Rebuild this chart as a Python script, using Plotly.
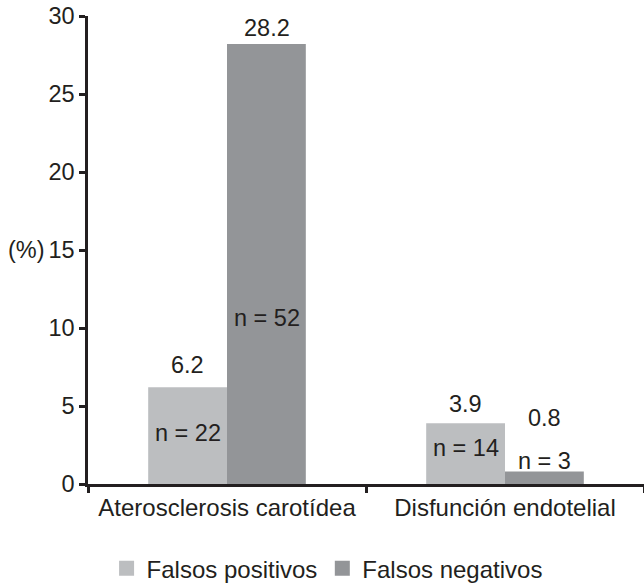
import plotly.graph_objects as go

# ---- data ----
categories = ["Aterosclerosis carotídea", "Disfunción endotelial"]
series_names = ["Falsos positivos", "Falsos negativos"]
falsos_positivos = [6.2, 3.9]
falsos_negativos = [28.2, 0.8]
n_positivos = [22, 14]
n_negativos = [52, 3]
y_ticks = [0, 5, 10, 15, 20, 25, 30]

# ---- style ----
FONT = "Liberation Sans, Arial, sans-serif"
TXT = "#231f20"
LIGHT = "#bcbec0"
DARK = "#939598"
COLORS = [LIGHT, DARK]
FS = 23.5
FS_BIG = 24

fig = go.Figure()
for vals, name, col in zip([falsos_positivos, falsos_negativos], series_names, COLORS):
    fig.add_trace(go.Bar(x=categories, y=vals, name=name, showlegend=False,
                         marker=dict(color=col, line=dict(width=0))))
# legend entries with larger square swatches
for name, col in zip(series_names, COLORS):
    fig.add_trace(go.Scatter(x=[None], y=[None], mode="markers", name=name,
                             marker=dict(symbol="square", size=15, color=col,
                                         line=dict(width=0))))

# label placement (y in axis units, x shift in px from category centre)
BAR_SHIFT = 39.5
val_label_y = {(0, 0): 7.6, (0, 1): 29.25, (1, 0): 5.15, (1, 1): 4.25}
n_label_y = {(0, 0): 3.25, (0, 1): 10.65, (1, 0): 2.3, (1, 1): 1.45}

annotations = []
series_vals = [falsos_positivos, falsos_negativos]
series_n = [n_positivos, n_negativos]
for ci, cat in enumerate(categories):
    for si in range(2):
        shift = -BAR_SHIFT if si == 0 else BAR_SHIFT
        annotations.append(dict(x=cat, y=val_label_y[(ci, si)], xref="x", yref="y",
                                xshift=shift, text=f"{series_vals[si][ci]:.1f}",
                                showarrow=False, font=dict(size=FS, color=TXT, family=FONT)))
        annotations.append(dict(x=cat, y=n_label_y[(ci, si)], xref="x", yref="y",
                                xshift=shift, text=f"n = {series_n[si][ci]}",
                                showarrow=False, font=dict(size=FS, color=TXT, family=FONT)))

annotations.append(dict(x=0, y=15, xref="paper", yref="y", xanchor="right", xshift=-41,
                        text="(%)", showarrow=False,
                        font=dict(size=FS, color=TXT, family=FONT)))

fig.update_layout(
    width=644, height=585,
    margin=dict(l=88, r=0, t=16, b=101, autoexpand=False),
    paper_bgcolor="white", plot_bgcolor="white",
    font=dict(family=FONT, size=FS, color=TXT),
    barmode="group", bargap=0.433, bargroupgap=0,
    showlegend=True,
    legend=dict(orientation="h", x=0.43, xanchor="center", y=-0.181, yanchor="middle",
                itemsizing="trace",
                font=dict(size=FS_BIG, color=TXT, family=FONT), bgcolor="rgba(0,0,0,0)"),
    annotations=annotations,
)
fig.update_xaxes(showline=True, linecolor=TXT, linewidth=2.5, ticks="outside",
                 tickson="boundaries", ticklen=6, tickwidth=2.5, tickcolor=TXT,
                 showgrid=False, zeroline=False, tickfont=dict(size=FS_BIG, color=TXT))
fig.update_yaxes(range=[0, 30], tickvals=y_ticks, showline=True, linecolor=TXT,
                 linewidth=2.5, ticks="outside", ticklen=6, tickwidth=2.5, tickcolor=TXT,
                 showgrid=False, zeroline=False, tickfont=dict(size=FS, color=TXT))

fig.write_html("out.html", config={"displayModeBar": False},
               post_script="document.body.style.margin='0px';")
